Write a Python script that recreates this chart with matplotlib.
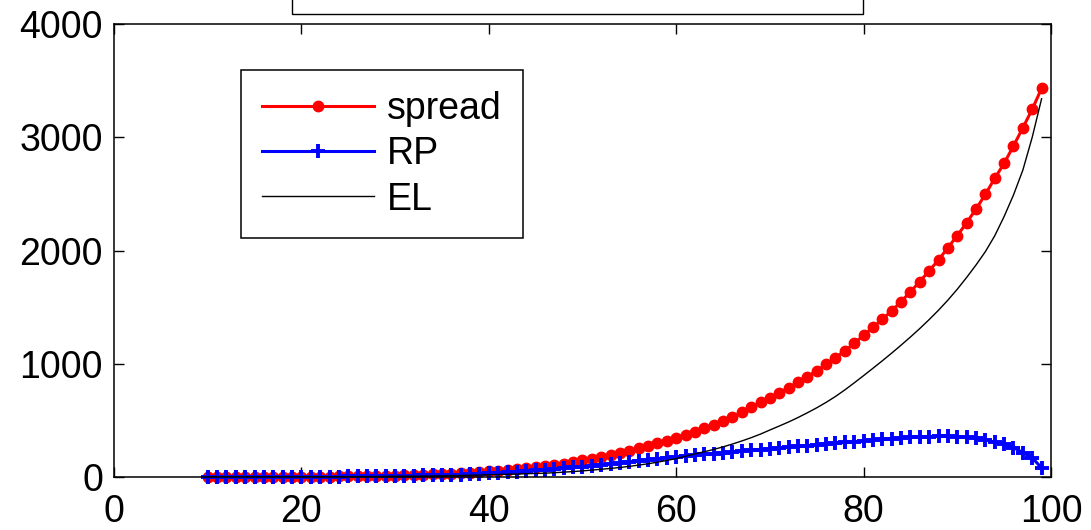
import matplotlib
matplotlib.use('Agg')
import matplotlib.pyplot as plt
from matplotlib.patches import Rectangle

# x values (one point per integer)
x = list(range(10, 100))

# spread
spread = [0, 0, 0, 0, 1, 1, 1, 1, 2, 2,
          2, 3, 3, 4, 5, 6, 7, 8, 10, 11,
          13, 15, 17, 20, 23, 26, 30, 34, 38, 43,
          50, 56, 62, 69, 77, 85, 94, 104, 115, 131,
          147, 163, 180, 197, 215, 234, 253, 274, 297, 321,
          347, 374, 400, 430, 462, 497, 532, 570, 615, 660,
          700, 744, 789, 836, 886, 939, 995, 1053, 1115, 1180,
          1251, 1322, 1392, 1468, 1548, 1636, 1725, 1822, 1916, 2025,
          2131, 2245, 2366, 2496, 2637, 2770, 2923, 3084, 3247, 3432]

# RP
rp = [0, 0, 0, 0, 0, 1, 1, 1, 1, 2,
      2, 2, 3, 3, 4, 5, 5, 6, 7, 8,
      10, 11, 12, 14, 16, 18, 20, 22, 25, 28,
      35, 39, 43, 48, 53, 58, 64, 70, 78, 85,
      92, 100, 108, 117, 126, 135, 144, 153, 162, 171,
      179, 186, 193, 200, 207, 214, 221, 228, 235, 242,
      249, 256, 263, 270, 277, 284, 291, 298, 305, 312,
      319, 326, 333, 339, 345, 350, 354, 357, 359, 360,
      357, 352, 344, 330, 308, 288, 260, 215, 170, 80]

# EL
el = [0, 0, 0, 0, 0, 0, 0, 1, 1, 1,
      1, 1, 1, 2, 2, 2, 3, 3, 4, 5,
      6, 7, 7, 8, 9, 10, 12, 13, 15, 17,
      20, 22, 24, 26, 29, 31, 34, 38, 43, 48,
      54, 61, 68, 76, 84, 94, 105, 117, 131, 146,
      163, 183, 204, 223, 243, 266, 291, 318, 347, 379,
      415, 450, 486, 525, 567, 611, 659, 711, 769, 831,
      895, 960, 1026, 1094, 1164, 1236, 1311, 1390, 1473, 1562,
      1658, 1762, 1872, 1990, 2130, 2300, 2490, 2710, 3000, 3340]

plt.rcParams['font.family'] = ['Liberation Sans', 'DejaVu Sans']
plt.rcParams['font.size'] = 27

fig = plt.figure(figsize=(10.91, 5.30), dpi=100)
ax = fig.add_axes([0.1045, 0.1, 0.8588, 0.8547])

ax.plot(x, spread, color='red', lw=2.2, marker='o', ms=7.5, label='spread', clip_on=False)
ax.plot(x, rp, color='blue', lw=2.2, marker='+', ms=10, mew=2.8, label='RP', clip_on=False)
ax.plot(x, el, color='black', lw=1.0, label='EL')

ax.set_xlim(0, 100)
ax.set_ylim(0, 4000)
ax.set_xticks([0, 20, 40, 60, 80, 100])
ax.set_yticks([0, 1000, 2000, 3000, 4000])
ax.tick_params(direction='in', length=7, width=1, top=True, right=True, pad=8)
ax.tick_params(axis='x', pad=12)
for s in ax.spines.values():
    s.set_linewidth(1.1)

leg = ax.legend(loc='upper left', bbox_to_anchor=(0.1355, 0.898), numpoints=1,
                handlelength=3.0, handletextpad=0.35, labelspacing=0.25,
                borderpad=0.55, borderaxespad=0, fancybox=False, framealpha=1,
                edgecolor='black', fontsize=27)
leg.get_frame().set_linewidth(1.1)

# box of the panel above, cut off at the top edge
fig.patches.append(Rectangle((292 / 1091, 1 - 14 / 530), (863 - 292) / 1091, 0.2,
                             transform=fig.transFigure, fill=False, lw=1.0,
                             edgecolor='black'))

fig.savefig('out.png', dpi=100)
